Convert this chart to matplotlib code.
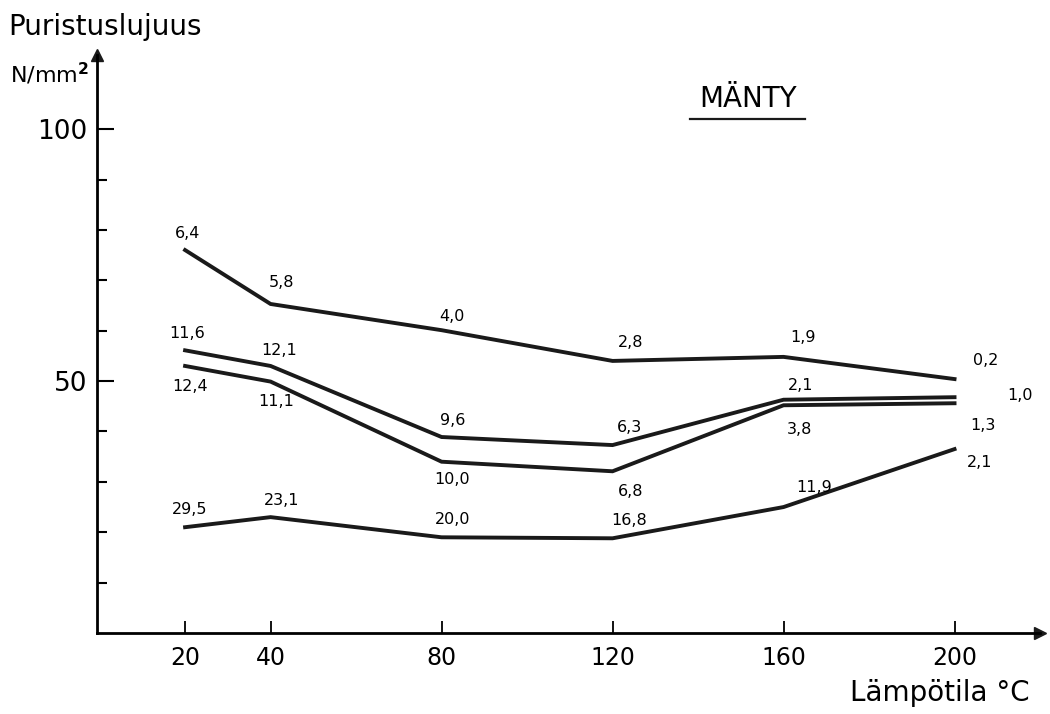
import matplotlib.pyplot as plt
from matplotlib.lines import Line2D

# Lämpötila (C) ja puristuslujuus (N/mm2), männylle
lampotila = [20, 40, 80, 120, 160, 200]
sarja1 = [76.0, 65.3, 60.1, 54.0, 54.8, 50.4]
sarja2 = [56.1, 53.0, 38.9, 37.3, 46.3, 46.8]
sarja3 = [53.0, 49.9, 34.0, 32.1, 45.2, 45.6]
sarja4 = [21.0, 23.0, 19.0, 18.8, 25.0, 36.5]

# pistekohtaiset tekstit
tekstit1 = ["6,4", "5,8", "4,0", "2,8", "1,9", "0,2"]
tekstit2 = ["11,6", "12,1", "9,6", "6,3", "2,1", "1,0"]
tekstit3 = ["12,4", "11,1", "10,0", "6,8", "3,8", "1,3"]
tekstit4 = ["29,5", "23,1", "20,0", "16,8", "11,9", "2,1"]

# tekstien siirrot pisteesta (pikseleina)
siirrot1 = [(2, 17), (11, 21), (10, 14), (18, 18), (19, 19), (31, 19)]
siirrot2 = [(2, 17), (9, 15), (11, 17), (17, 18), (17, 14), (65, 2)]
siirrot3 = [(5, -21), (6, -20), (10, -18), (18, -20), (16, -24), (28, -22)]
siirrot4 = [(5, 18), (11, 17), (11, 18), (17, 18), (31, 20), (25, -13)]

fig = plt.figure(figsize=(10.5, 7.14), dpi=100)
ax = fig.add_axes([0.0924, 0.1134, 0.8981, 0.8095])

for arvot, tekstit, siirrot in [(sarja1, tekstit1, siirrot1),
                                (sarja2, tekstit2, siirrot2),
                                (sarja3, tekstit3, siirrot3),
                                (sarja4, tekstit4, siirrot4)]:
    ax.plot(lampotila, arvot, color='#1a1a1a', lw=2.8, solid_joinstyle='miter')
    for x, y, t, s in zip(lampotila, arvot, tekstit, siirrot):
        ax.annotate(t, (x, y), xytext=s, textcoords='offset pixels',
                    ha='center', va='center', fontsize=11.5)

ax.set_xlim(-0.6, 220)
ax.set_ylim(0, 114.7)
ax.spines['top'].set_visible(False)
ax.spines['right'].set_visible(False)
ax.spines['left'].set_linewidth(2)
ax.spines['bottom'].set_linewidth(2)

ax.set_xticks(lampotila)
ax.set_xticklabels([str(v) for v in lampotila], fontsize=17)
ax.tick_params(axis='x', direction='in', length=9, width=1.3, pad=9)

ax.set_yticks([50, 100])
ax.set_yticklabels(['50', '100'], fontsize=19)
ax.set_yticks([10, 20, 30, 40, 60, 70, 80, 90], minor=True)
ax.tick_params(axis='y', which='major', direction='in', length=12, width=1.5, pad=7)
ax.tick_params(axis='y', which='minor', direction='in', length=7, width=1.5)

# nuolenkarjet
ax.plot(1, 0, '>', color='#1a1a1a', ms=9, transform=ax.transAxes, clip_on=False)
ax.plot(0, 1, '^', color='#1a1a1a', ms=9, transform=ax.transAxes, clip_on=False)

fig.text(0.008, 0.962, 'Puristuslujuus', fontsize=20, va='center', ha='left')
fig.text(0.010, 0.896, 'N/mm$^\\mathbf{2}$', fontsize=16, va='center', ha='left')
fig.text(0.712, 0.862, 'MÄNTY', fontsize=20, va='center', ha='center')
fig.add_artist(Line2D([0.657, 0.767], [0.833, 0.833], color='#1a1a1a', lw=1.6))
fig.text(0.981, 0.029, 'Lämpötila °C', fontsize=20, va='center', ha='right')

plt.savefig('out.png', dpi=100)
